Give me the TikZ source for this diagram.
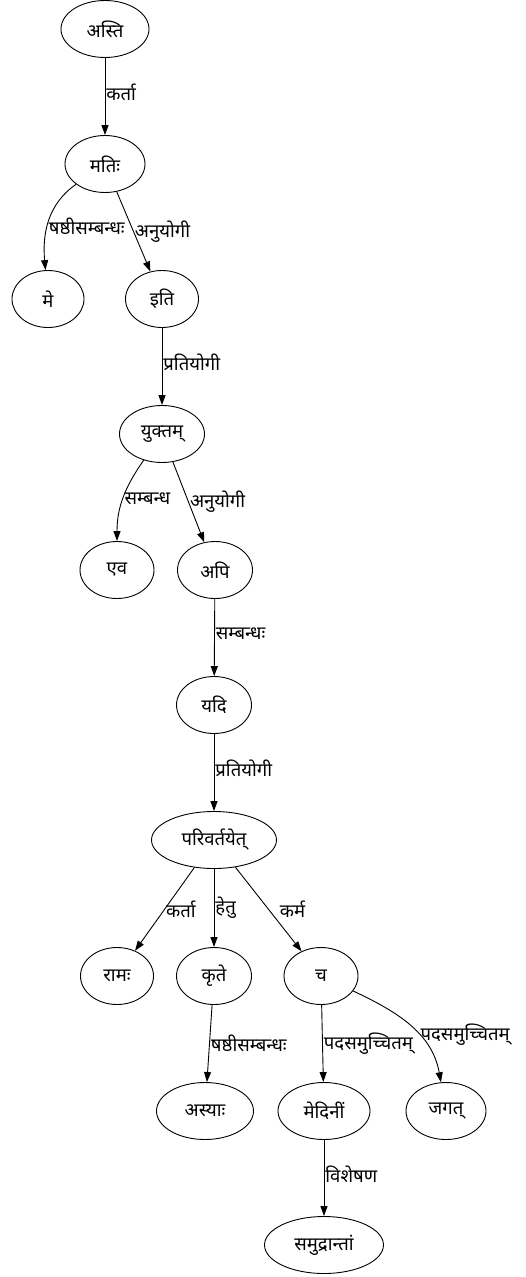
\documentclass[tikz,border=0pt]{standalone}
\usepackage{fontspec}
\newfontfamily\devfont[Script=Devanagari]{Noto Sans}
\usetikzlibrary{arrows.meta,shapes.geometric}
\tikzset{%
	word/.style = {draw, ellipse, line width=0.9pt, minimum width=#1, minimum height=57pt, inner sep=0pt, font=\devfont\fontsize{18.5}{20}\selectfont},
	word/.default = 74pt,
	rel/.style  = {line width=0.9pt, -{Triangle[length=10pt,width=7pt]}},
	lbl/.style  = {anchor=west, inner sep=1pt, font=\devfont\fontsize{18.5}{20}\selectfont},
}

\begin{document}
\begin{tikzpicture}[x=1pt,y=1pt]
			\useasboundingbox (0,0) rectangle (526,-1277);
			\node[word=88pt]  (asti)    at (105,-29)   {अस्ति};
			\node[word=80pt]  (mati)    at (105,-164)  {मतिः};
			\node[word=72pt]  (me)      at (48,-299)   {मे};
			\node[word=73pt]  (iti)     at (162,-299)  {इति};
			\node[word=85pt]  (yuktam)  at (162,-434)  {युक्तम्};
			\node[word]       (eva)     at (117,-570)  {एव};
			\node[word=75pt]  (api)     at (215,-570)  {अपि};
			\node[word=75pt]  (yadi)    at (214,-705)  {यदि};
			\node[word=125pt] (parivartayet) at (214,-840) {परिवर्तयेत्};
			\node[word=73pt]  (rama)    at (117,-976)  {रामः};
			\node[word=75pt]  (krte)    at (214,-976)  {कृते};
			\node[word]       (ca)      at (321,-976)  {च};
			\node[word=97pt]  (asyah)   at (205,-1111) {अस्याः};
			\node[word=92pt]  (medini)  at (324,-1111) {मेदिनीं};
			\node[word=80pt]  (jagat)   at (446,-1111) {जगत्};
			\node[word=119pt] (samudra) at (324,-1245) {समुद्रान्तां};
			
			\draw[rel] (asti) -- node[lbl,pos=0.45] {कर्ता} (mati);
			\draw[rel] (mati) to[out=-145,in=95] node[lbl,pos=0.55] {षष्ठीसम्बन्धः} (me);
			\draw[rel] (mati) -- node[lbl] {अनुयोगी} (iti);
			\draw[rel] (iti) -- node[lbl,pos=0.45] {प्रतियोगी} (yuktam);
			\draw[rel] (yuktam) to[out=-125,in=90] node[lbl] {सम्बन्ध} (eva);
			\draw[rel] (yuktam) -- node[lbl] {अनुयोगी} (api);
			\draw[rel] (api) -- node[lbl,pos=0.45] {सम्बन्धः} (yadi);
			\draw[rel] (yadi) -- node[lbl,pos=0.45] {प्रतियोगी} (parivartayet);
			\draw[rel] (parivartayet) -- node[lbl] {कर्ता} (rama);
			\draw[rel] (parivartayet) -- node[lbl] {हेतु} (krte);
			\draw[rel] (parivartayet) -- node[lbl,xshift=10pt] {कर्म} (ca);
			\draw[rel] (krte) -- node[lbl] {षष्ठीसम्बन्धः} (asyah);
			\draw[rel] (ca) -- node[lbl] {पदसमुच्चितम्} (medini);
			\draw[rel] (ca) to[out=-25,in=100] node[lbl,pos=0.6] {पदसमुच्चितम्} (jagat);
			\draw[rel] (medini) -- node[lbl,pos=0.45] {विशेषण} (samudra);
\end{tikzpicture}
\end{document}
